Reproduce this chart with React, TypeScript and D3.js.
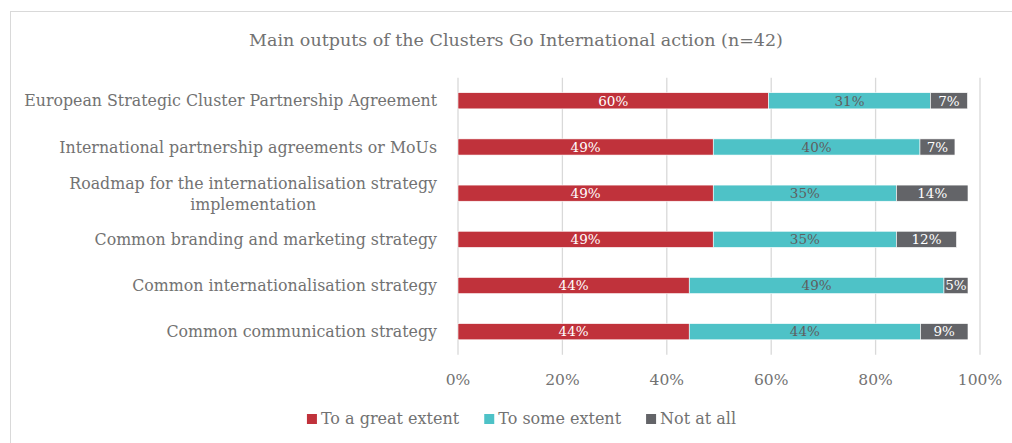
import React, { useEffect, useRef } from "react";
import * as d3 from "d3";

const title = "Main outputs of the Clusters Go International action (n=42)";
const categories = [
  "European Strategic Cluster Partnership Agreement",
  "International partnership agreements or MoUs",
  "Roadmap for the internationalisation strategy|implementation",
  "Common branding and marketing strategy",
  "Common internationalisation strategy",
  "Common communication strategy",
];
const greatExtent = [59.5, 48.9, 48.9, 48.9, 44.3, 44.3];
const someExtent = [31.0, 39.6, 35.1, 35.1, 48.8, 44.3];
const notAtAll = [7.1, 6.7, 13.7, 11.5, 4.6, 9.1];
const seriesNames = ["To a great extent", "To some extent", "Not at all"];
const seriesColors = ["#c0323b", "#4ec2c7", "#636468"];
const labelColors = ["#ffffff", "#5f5f5f", "#ffffff"];
const xTicks = [0, 20, 40, 60, 80, 100];

const FONT = "'DejaVu Serif', Georgia, serif";
const TEXT = "#727272";

export default function App() {
  const ref = useRef<SVGSVGElement>(null);

  useEffect(() => {
    const svg = d3.select(ref.current);
    svg.selectAll("*").remove();

    // frame
    svg.append("rect").attr("x", 10.5).attr("y", 11.5).attr("width", 1100).attr("height", 600)
      .attr("fill", "#fff").attr("stroke", "#d9d9d9").attr("stroke-width", 1);

    const x = d3.scaleLinear().domain([0, 100]).range([458, 980]);
    const y = d3.scaleBand<string>().domain(categories).range([77.7, 354.8]).paddingInner(0.65).paddingOuter(0.325);

    // title
    svg.append("text").attr("x", 516).attr("y", 46).attr("text-anchor", "middle")
      .attr("font-family", FONT).attr("font-size", 17.5).attr("fill", TEXT).text(title);

    // gridlines
    svg.append("g").selectAll("line").data(xTicks).join("line")
      .attr("x1", (d) => x(d)).attr("x2", (d) => x(d))
      .attr("y1", 77.7).attr("y2", 354.8)
      .attr("stroke", "#d9d9d9").attr("stroke-width", 1.3);

    // tick labels
    svg.append("g").selectAll("text").data(xTicks).join("text")
      .attr("x", (d) => x(d)).attr("y", 385).attr("text-anchor", "middle")
      .attr("font-family", FONT).attr("font-size", 15.5).attr("fill", TEXT)
      .text((d) => d + "%");

    // stacked bars
    const series = [greatExtent, someExtent, notAtAll];
    const stackData = categories.map((c, i) => ({ cat: c, s0: series[0][i], s1: series[1][i], s2: series[2][i] }));
    const stacked = d3.stack<any>().keys(["s0", "s1", "s2"])(stackData);

    stacked.forEach((layer, si) => {
      const g = svg.append("g");
      g.selectAll("rect").data(layer).join("rect")
        .attr("x", (d) => x(d[0]))
        .attr("width", (d) => x(d[1]) - x(d[0]))
        .attr("y", (d) => y(d.data.cat)!)
        .attr("height", y.bandwidth())
        .attr("fill", seriesColors[si])
        .attr("stroke", "#ffffff").attr("stroke-width", 0.6);
      g.selectAll("text").data(layer).join("text")
        .attr("x", (d) => (x(d[0]) + x(d[1])) / 2)
        .attr("y", (d) => y(d.data.cat)! + y.bandwidth() / 2)
        .attr("dy", "0.35em")
        .attr("text-anchor", "middle")
        .attr("font-family", FONT).attr("font-size", 13.5)
        .attr("fill", labelColors[si])
        .text((d) => Math.round(d[1] - d[0]) + "%");
    });

    // category labels
    const labelRight = 437;
    const LF = 15.8;
    categories.forEach((c) => {
      const lines = c.split("|");
      const cy = y(c)! + y.bandwidth() / 2;
      if (lines.length === 1) {
        svg.append("text").attr("x", labelRight).attr("y", cy).attr("dy", "0.35em")
          .attr("text-anchor", "end").attr("font-family", FONT).attr("font-size", LF)
          .attr("fill", TEXT).text(lines[0]);
      } else {
        const t1 = svg.append("text").attr("x", labelRight).attr("y", cy - 10).attr("dy", "0.35em")
          .attr("text-anchor", "end").attr("font-family", FONT).attr("font-size", LF)
          .attr("fill", TEXT).text(lines[0]);
        const w = (t1.node() as SVGTextElement).getComputedTextLength();
        svg.append("text").attr("x", labelRight - w / 2).attr("y", cy + 11).attr("dy", "0.35em")
          .attr("text-anchor", "middle").attr("font-family", FONT).attr("font-size", LF)
          .attr("fill", TEXT).text(lines[1]);
      }
    });

    // legend
    const legend = svg.append("g");
    const items: { g: any; w: number }[] = [];
    seriesNames.forEach((name, i) => {
      const g = legend.append("g");
      g.append("rect").attr("x", 0).attr("y", -10).attr("width", 10).attr("height", 10).attr("fill", seriesColors[i]);
      const t = g.append("text").attr("x", 14).attr("y", 0).attr("font-family", FONT).attr("font-size", 16)
        .attr("fill", TEXT).text(name);
      const w = 14 + (t.node() as SVGTextElement).getComputedTextLength();
      items.push({ g, w });
    });
    const gap = 25;
    const total = items.reduce((a, b) => a + b.w, 0) + gap * (items.length - 1);
    let cx = 521.5 - total / 2;
    items.forEach((it) => {
      it.g.attr("transform", `translate(${cx},424)`);
      cx += it.w + gap;
    });
  }, []);

  return (
    <svg ref={ref} width={1012} height={443}
      style={{ position: "absolute", left: 0, top: 0, background: "#fff" }} />
  );
}
